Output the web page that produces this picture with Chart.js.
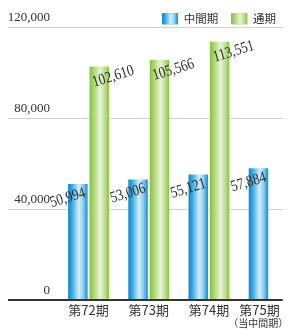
<!DOCTYPE html>
<html lang="ja">
<head>
<meta charset="UTF-8">
<title>中間期・通期</title>
<script src="https://cdn.jsdelivr.net/npm/chart.js"></script>
<style>
  html, body { margin: 0; padding: 0; background: #fff; }
  #wrap { width: 289px; height: 329px; position: relative; }
</style>
</head>
<body>
<div id="wrap"><canvas id="chart"></canvas></div>
<script>
// データ
const periods = ['第72期', '第73期', '第74期', '第75期'];
const subLabel = '（当中間期）';
const interim = [50994, 53006, 55121, 57884];
const fullYear = [102610, 105566, 113551, null];
const yTicks = [0, 40000, 80000, 120000];
const seriesNames = ['中間期', '通期'];

const CJK = "'Noto Sans CJK JP', 'Noto Sans', sans-serif";
const SERIF = "'Liberation Serif', 'DejaVu Serif', serif";
const CAT_PCT = 0.711, BAR_PCT = 0.909;

const blueStops = [[0, '#0888d0'], [0.18, '#34a4de'], [0.55, '#d4eefa'], [0.78, '#86ccef'], [1, '#0b8ed3']];
const greenStops = [[0, '#84c137'], [0.18, '#a7d36b'], [0.55, '#e9f4d6'], [0.78, '#bfdf96'], [1, '#8ac43e']];

function gradient(c, x0, x1, stops) {
  const g = c.createLinearGradient(x0, 0, x1, 0);
  stops.forEach(s => g.addColorStop(s[0], s[1]));
  return g;
}

// 各棒の位置に合わせた横グラデーション
function barFill(stops, dsIndex, solid) {
  return function(ctx) {
    if (ctx.type !== 'data' || !ctx.parsed) return solid;
    const xs = ctx.chart.scales.x;
    if (!xs) return solid;
    const unit = xs.getPixelForValue(2) - xs.getPixelForValue(1);
    const chunk = unit * CAT_PCT / 2;
    const cx = xs.getPixelForValue(ctx.parsed.x) + (dsIndex - 0.5) * chunk;
    const w = chunk * BAR_PCT;
    if (!isFinite(cx) || !isFinite(w) || w <= 0) return solid;
    return gradient(ctx.chart.ctx, cx - w / 2, cx + w / 2, stops);
  };
}

const toPoints = arr => arr.map((v, i) => ({ x: i + 1, y: v }));

// 棒の上の数値（斜め）
const valueLabels = {
  id: 'valueLabels',
  afterDatasetsDraw(chart) {
    const c = chart.ctx;
    chart.data.datasets.forEach((ds, di) => {
      const meta = chart.getDatasetMeta(di);
      meta.data.forEach((bar, i) => {
        const v = ds.data[i].y;
        if (v == null) return;
        const dx = di === 0 ? -10 : 14;
        const dy = di === 0 ? 14 : 10;
        c.save();
        c.translate(bar.x + dx, bar.y + dy);
        c.rotate(-17 * Math.PI / 180);
        c.scale(0.82, 1);
        c.font = '16px ' + SERIF;
        c.fillStyle = '#2e2e2e';
        c.textAlign = 'center';
        c.textBaseline = 'middle';
        c.fillText(v.toLocaleString('en-US'), 0, 0);
        c.restore();
      });
    });
  }
};

// 凡例の色見本にもグラデーション
const legendBoxes = {
  id: 'legendBoxes',
  afterDraw(chart) {
    const lg = chart.legend;
    if (!lg || !lg.legendHitBoxes) return;
    const lo = lg.options.labels;
    const c = chart.ctx;
    lg.legendHitBoxes.forEach((hb, i) => {
      const top = hb.top + Math.max((lo.font.size - lo.boxHeight) / 2, 0);
      c.fillStyle = gradient(c, hb.left, hb.left + lo.boxWidth, i === 0 ? blueStops : greenStops);
      c.fillRect(hb.left, top, lo.boxWidth, lo.boxHeight);
    });
  }
};

const xMin = 0.509, xMax = 4.225;

new Chart(document.getElementById('chart'), {
  type: 'bar',
  data: {
    datasets: [
      { label: seriesNames[0], data: toPoints(interim), backgroundColor: barFill(blueStops, 0, '#34a4de') },
      { label: seriesNames[1], data: toPoints(fullYear), backgroundColor: barFill(greenStops, 1, '#a7d36b') }
    ]
  },
  options: {
    responsive: true,
    maintainAspectRatio: false,
    animation: false,
    categoryPercentage: CAT_PCT,
    barPercentage: BAR_PCT,
    layout: { padding: 0 },
    plugins: {
      tooltip: { enabled: false },
      legend: {
        position: 'top',
        align: 'end',
        maxHeight: 27,
        labels: {
          font: { size: 11.5, family: CJK },
          color: '#333',
          boxWidth: 16,
          boxHeight: 11,
          padding: 13
        }
      }
    },
    scales: {
      x: {
        type: 'linear',
        display: false,
        min: xMin,
        max: xMax,
        offset: false,
        afterBuildTicks: s => { s.ticks = periods.map((p, i) => ({ value: i + 1 })); }
      },
      xl: {
        type: 'linear',
        position: 'bottom',
        weight: 0,
        min: xMin,
        max: xMax,
        offset: false,
        grid: { display: false, drawTicks: false },
        border: { display: false },
        afterBuildTicks: s => { s.ticks = [1, 2, 3, 3.84].map(v => ({ value: v })); },
        afterFit: s => { s.height = 17; },
        ticks: {
          autoSkip: false,
          maxRotation: 0,
          padding: 2,
          color: '#333',
          font: { size: 13, family: CJK, lineHeight: 1.2 },
          callback: (v, i) => periods[i]
        }
      },
      xs: {
        type: 'linear',
        position: 'bottom',
        weight: 1,
        min: xMin,
        max: xMax,
        offset: false,
        grid: { display: false, drawTicks: false },
        border: { display: false },
        afterBuildTicks: s => { s.ticks = [{ value: 3.82 }]; },
        afterFit: s => { s.height = 12; },
        ticks: {
          autoSkip: false,
          maxRotation: 0,
          padding: 0,
          color: '#333',
          font: { size: 10, family: CJK, lineHeight: 1.2 },
          callback: () => subLabel
        }
      },
      y: {
        min: 0,
        max: 120000,
        border: { display: false },
        afterBuildTicks: s => { s.ticks = yTicks.map(v => ({ value: v })); },
        afterFit: s => { s.width = 59; },
        grid: {
          tickLength: 51,
          color: c => c.tick && c.tick.value === 0 ? '#333' : '#d2d2d2',
          lineWidth: c => c.tick && c.tick.value === 0 ? 2 : 1
        },
        ticks: {
          padding: -42,
          labelOffset: -9,
          color: '#333',
          font: { size: 13, family: SERIF },
          callback: v => v.toLocaleString('en-US')
        }
      }
    }
  },
  plugins: [valueLabels, legendBoxes]
});
</script>
</body>
</html>
